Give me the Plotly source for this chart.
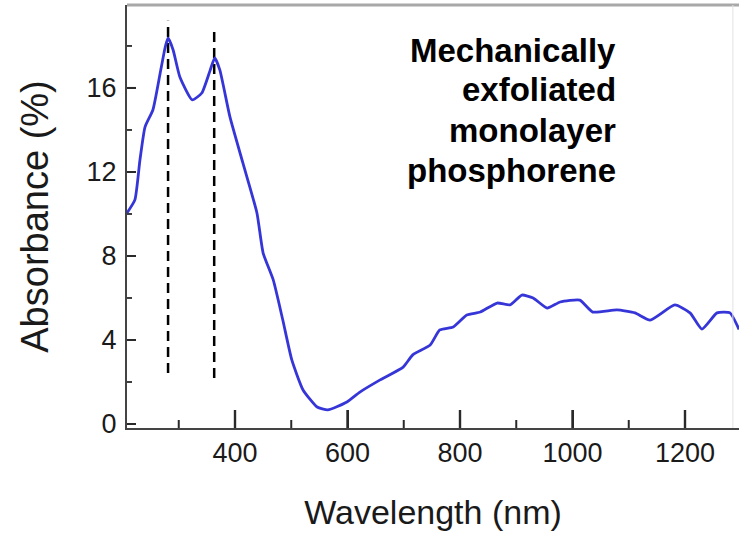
import plotly.graph_objects as go

# Absorbance spectrum
wavelength_nm = [208, 222, 231, 240, 254, 267, 276, 281, 290, 302, 324, 341, 356, 364, 373,
                 391, 414, 439, 450, 468, 485, 501, 521, 546, 565, 599, 622, 658, 699, 716,
                 747, 764, 788, 812, 836, 866, 889, 910, 930, 955, 978, 1013, 1036, 1079,
                 1111, 1138, 1182, 1209, 1230, 1257, 1280, 1296]
absorbance_pct = [10.05, 10.67, 12.57, 14.14, 14.95, 16.71, 17.95, 18.38, 17.81, 16.52, 15.43,
                  15.76, 16.86, 17.43, 16.86, 14.62, 12.43, 10.05, 8.14, 6.86, 4.95, 3.05, 1.62,
                  0.81, 0.67, 1.05, 1.52, 2.10, 2.71, 3.29, 3.76, 4.48, 4.62, 5.19, 5.33, 5.76,
                  5.67, 6.14, 6.00, 5.52, 5.81, 5.90, 5.33, 5.43, 5.29, 4.95, 5.67, 5.29, 4.52,
                  5.29, 5.29, 4.50]

# Dashed marker lines at the two peaks
peak_x = [281, 363]
peak_y_low = [2.43, 2.19]
peak_y_high = [19.2, 18.67]

x_ticks = [400, 600, 800, 1000, 1200]
x_minor_ticks = [300, 500, 700, 900, 1100]
y_ticks = [0, 4, 8, 12, 16]
y_minor_ticks = [2, 6, 10, 14, 18]

x_range = [208, 1296]
y_range = [-0.19, 19.95]

label_lines = ["Mechanically", "exfoliated", "monolayer", "phosphorene"]

W, H = 739, 539
M_L, M_R, M_T, M_B = 127, 0, 5, 111
plot_w = W - M_L - M_R
plot_h = H - M_T - M_B
x_per_px = (x_range[1] - x_range[0]) / plot_w
y_per_px = (y_range[1] - y_range[0]) / plot_h

fig = go.Figure()

# Inward tick marks, one short segment per tick on the axes' own scales
for vals, length_px, width in [(x_ticks, 18, 2.4), (x_minor_ticks, 8, 2.0)]:
    for v in vals:
        fig.add_trace(go.Scatter(x=[v, v], y=[y_range[0], y_range[0] + length_px * y_per_px],
                                 mode="lines", line=dict(color="#2a2a2a", width=width),
                                 showlegend=False, hoverinfo="skip"))
for vals, length_px, width in [(y_ticks, 9, 2.0), (y_minor_ticks, 5, 1.8)]:
    for v in vals:
        fig.add_trace(go.Scatter(x=[x_range[0], x_range[0] + length_px * x_per_px], y=[v, v],
                                 mode="lines", line=dict(color="#2a2a2a", width=width),
                                 showlegend=False, hoverinfo="skip"))

for px, lo, hi in zip(peak_x, peak_y_low, peak_y_high):
    fig.add_trace(go.Scatter(x=[px, px], y=[lo, hi], mode="lines",
                             line=dict(color="black", width=2.5, dash="10px,6px"),
                             showlegend=False, hoverinfo="skip"))

fig.add_trace(go.Scatter(x=wavelength_nm, y=absorbance_pct, mode="lines",
                         line=dict(color="#3636d8", width=2.8, shape="spline", smoothing=0.5),
                         showlegend=False))

font_family = "Liberation Sans, Arial, sans-serif"

frame_shapes = [
    dict(type="line", xref="paper", yref="paper", x0=0, x1=1, y0=1, y1=1,
         line=dict(color="#a8a8a8", width=3)),
    dict(type="line", xref="paper", yref="paper", x0=0.99, x1=0.99, y0=0, y1=1,
         line=dict(color="#e2e2e2", width=1)),
]

fig.update_layout(
    template="none",
    width=W, height=H,
    margin=dict(l=M_L, r=M_R, t=M_T, b=M_B),
    paper_bgcolor="white", plot_bgcolor="white",
    font=dict(family=font_family, color="#1a1a1a"),
    xaxis=dict(
        range=x_range, tickmode="array", tickvals=x_ticks,
        ticks="inside", ticklen=18, tickwidth=2.4, tickcolor="#2a2a2a",
        showline=True, linecolor="#444", linewidth=2, showgrid=False,
        zeroline=False, tickfont=dict(size=27, color="#1a1a1a"),
        title=dict(text="Wavelength (nm)", font=dict(size=34, color="#1a1a1a"), standoff=33),
        automargin=False,
    ),
    yaxis=dict(
        range=y_range, tickmode="array", tickvals=y_ticks,
        ticks="inside", ticklen=9, tickwidth=2, tickcolor="#2a2a2a",
        showline=True, linecolor="#444", linewidth=2, showgrid=False,
        zeroline=False, tickfont=dict(size=27, color="#1a1a1a"), ticklabelstandoff=3,
        title=dict(text="Absorbance (%)", font=dict(size=38, color="#1a1a1a"), standoff=26),
        automargin=False,
    ),
    shapes=frame_shapes,
)

# Right-aligned bold label, one line per annotation
baselines_px = [62, 102, 142, 182]
for txt, b in zip(label_lines, baselines_px):
    yc = (428 - (b - 12)) / 423
    fig.add_annotation(text="<b>%s</b>" % txt, xref="paper", yref="paper",
                       x=(618 - 127) / 612, y=yc, xanchor="right", yanchor="middle",
                       showarrow=False, font=dict(size=33, color="black", family=font_family))

fig.write_html("out.html")
